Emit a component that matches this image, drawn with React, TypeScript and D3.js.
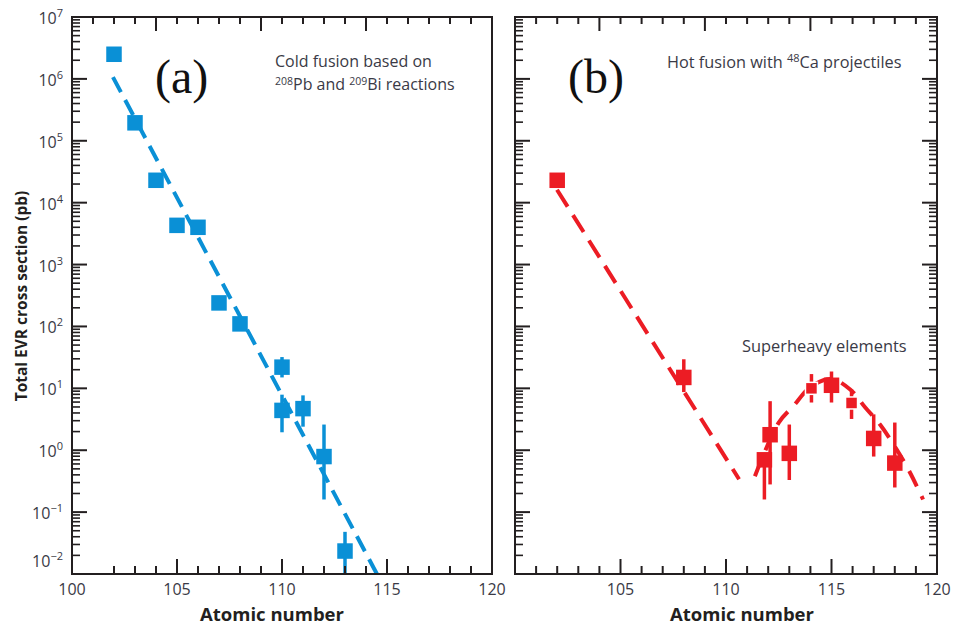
import React from 'react';
import * as d3 from 'd3';

// ---------- data ----------
// Panel (a): cold fusion (208Pb / 209Bi)
const coldZ = [102, 103, 104, 105, 106, 107, 108, 110, 110, 111, 112, 113];
const coldSigma = [2.5e6, 1.95e5, 2.3e4, 4.3e3, 4.0e3, 240, 110, 22, 4.4, 4.7, 0.79, 0.0235];
const coldErrLo = [null, null, null, null, null, null, null, 15, 1.95, 2.4, 0.16, 0.01];
const coldErrHi = [null, null, null, null, null, null, null, 32, 7.9, 7.7, 2.6, 0.048];
const coldFitZ = [101.95, 114.52];
const coldFitSigma = [1.07e6, 0.01];

// Panel (b): hot fusion with 48Ca
const hotZ = [102, 108, 111.82, 112.09, 113, 114.05, 115, 115.95, 117, 118];
const hotSigma = [2.3e4, 15, 0.70, 1.78, 0.89, 10, 11.2, 5.8, 1.55, 0.62];
const hotErrLo = [null, 8.7, 0.16, 0.28, 0.33, 5.9, 5.9, 3.2, 0.79, 0.25];
const hotErrHi = [null, 29.5, 0.9, 6.2, 2.6, 17, 18.7, 9.6, 3.8, 2.8];
const hotFit1Z = [101.99, 110.62];
const hotFit1Sigma = [1.62e4, 0.34];
const hotFit2Z = [111.37, 112.5, 113.2, 114.0, 115.0, 115.9, 116.6, 117.3, 118.0, 118.7, 119.34];
const hotFit2Sigma = [0.38, 2.8, 5.2, 10.5, 14.1, 9.5, 4.9, 2.6, 1.15, 0.45, 0.16];

// axis ticks
const yMajorExp = [-2, -1, 0, 1, 2, 3, 4, 5, 6, 7];
const yMinorMult = [2, 3, 4, 5, 6, 7, 8, 9];
const xLabelsA = [100, 105, 110, 115, 120];
const xLabelsB = [105, 110, 115, 120];
const xBottomTicksA = [102, 103, 104, 105, 106, 107, 108, 109, 110, 111, 112, 113, 114, 115, 116, 117, 118, 119];
const xBottomTicksB = [101, 102, 103, 104, 105, 106, 107, 108, 109, 110, 111, 112, 113, 114, 115, 116, 117, 118, 119];
const xBottomMajor = [105, 110, 115];
const xTopTicks = [101, 102, 103, 104, 105, 106, 107, 108, 109, 110, 111, 112, 113, 114, 115, 116, 117, 118, 119];
const xTopMajor = [104, 109, 114];
const smallMarkerZ = [114.05, 115.95];

// ---------- layout / style ----------
const W = 954;
const H = 626;
const Y_TOP = 17;
const Y_BOT = 574;
const BLUE = '#0a90d6';
const RED = '#ec1c24';
const AXIS = '#231f20';
const LABEL = '#3a3a46';
const FONT = '"Open Sans", "Noto Sans", sans-serif';

const yScale = d3.scaleLog().domain([1e-2, 1e7]).range([Y_BOT, Y_TOP]);
const xA = d3.scaleLinear().domain([100, 120]).range([72, 492]);
const xB = d3.scaleLinear().domain([100, 120]).range([515, 937]);

const yMinor: number[] = [];
yMajorExp.slice(0, -1).forEach((e) => yMinorMult.forEach((m) => yMinor.push(m * Math.pow(10, e))));

function Frame({ x, rightTicks, bottomTicks }: { x: d3.ScaleLinear<number, number>; rightTicks: boolean; bottomTicks: number[] }) {
  const [x0, x1] = x.range();
  const els: React.ReactNode[] = [];
  yMajorExp.forEach((e) => {
    const y = yScale(Math.pow(10, e));
    els.push(<line key={'lM' + e} x1={x0} x2={x0 + 15} y1={y} y2={y} />);
    if (rightTicks) els.push(<line key={'rM' + e} x1={x1} x2={x1 - 15} y1={y} y2={y} />);
  });
  yMinor.forEach((v, i) => {
    const y = yScale(v);
    els.push(<line key={'lm' + i} x1={x0} x2={x0 + 8} y1={y} y2={y} strokeWidth={1.6} />);
    if (rightTicks) els.push(<line key={'rm' + i} x1={x1} x2={x1 - 8} y1={y} y2={y} strokeWidth={1.6} />);
  });
  bottomTicks.forEach((t) => {
    const len = xBottomMajor.includes(t) ? 15 : 8;
    els.push(<line key={'b' + t} x1={x(t)} x2={x(t)} y1={Y_BOT} y2={Y_BOT - len} />);
  });
  xTopTicks.forEach((t) => {
    const len = xTopMajor.includes(t) ? 14 : 7;
    els.push(<line key={'t' + t} x1={x(t)} x2={x(t)} y1={Y_TOP} y2={Y_TOP + len} />);
  });
  return (
    <g stroke={AXIS} strokeWidth={2} fill="none">
      {els}
      <rect x={x0} y={Y_TOP} width={x1 - x0} height={Y_BOT - Y_TOP} />
    </g>
  );
}

function Series({ x, zs, sig, lo, hi, color, small }: any) {
  return (
    <g>
      {zs.map((z: number, i: number) =>
        lo[i] != null ? (
          <line key={'e' + i} x1={x(z)} x2={x(z)} y1={yScale(lo[i])} y2={yScale(hi[i])} stroke={color} strokeWidth={3.5} />
        ) : null
      )}
      {zs.map((z: number, i: number) => {
        const isSmall = small && small.includes(z);
        const s = isSmall ? 12 : 15.5;
        return (
          <rect
            key={'s' + i}
            x={x(z) - s / 2}
            y={yScale(sig[i]) - s / 2}
            width={s}
            height={s}
            fill={color}
            stroke={isSmall ? '#fff' : 'none'}
            strokeWidth={1.5}
          />
        );
      })}
    </g>
  );
}

function fitPath(x: any, zs: number[], sig: number[], curve?: any) {
  const line = d3
    .line<number>()
    .x((_, i) => x(zs[i]))
    .y((_, i) => yScale(sig[i]));
  if (curve) line.curve(curve);
  return line(zs) || '';
}

function YLabels() {
  return (
    <g fontFamily={FONT} fill={LABEL} textAnchor="end">
      {yMajorExp.map((e) => {
        const y = yScale(Math.pow(10, e)) + (e === -2 ? -7 : 7);
        const ex = e < 0 ? '\u2212' + Math.abs(e) : String(e);
        return (
          <text key={e} x={63} y={y} fontSize={16}>
            10
            <tspan fontSize={11} dy={-7}>
              {ex}
            </tspan>
          </text>
        );
      })}
    </g>
  );
}

function XLabels({ x, ticks }: any) {
  return (
    <g fontFamily={FONT} fill={LABEL} textAnchor="middle" fontSize={16}>
      {ticks.map((t: number) => (
        <text key={t} x={x(t)} y={595}>
          {t}
        </text>
      ))}
    </g>
  );
}

export default function App() {
  return (
    <svg width={W} height={H} style={{ position: 'absolute', left: 0, top: 0, background: '#fff' }}>
      <rect width={W} height={H} fill="#fff" />
      {/* Panel A */}
      <path d={fitPath(xA, coldFitZ, coldFitSigma)} fill="none" stroke={BLUE} strokeWidth={4} strokeDasharray="17 9" />
      <Series x={xA} zs={coldZ} sig={coldSigma} lo={coldErrLo} hi={coldErrHi} color={BLUE} />
      <Frame x={xA} rightTicks={false} bottomTicks={xBottomTicksA} />
      {/* Panel B */}
      <path d={fitPath(xB, hotFit1Z, hotFit1Sigma)} fill="none" stroke={RED} strokeWidth={4} strokeDasharray="20 10" />
      <path d={fitPath(xB, hotFit2Z, hotFit2Sigma, d3.curveCatmullRom)} fill="none" stroke={RED} strokeWidth={4} strokeDasharray="17 11" />
      <Series x={xB} zs={hotZ} sig={hotSigma} lo={hotErrLo} hi={hotErrHi} color={RED} small={smallMarkerZ} />
      <Frame x={xB} rightTicks={true} bottomTicks={xBottomTicksB} />

      <YLabels />
      <XLabels x={xA} ticks={xLabelsA} />
      <XLabels x={xB} ticks={xLabelsB} />

      <text x={21} y={296} transform="rotate(-90 21 296)" textAnchor="middle" dy={6} fontFamily={FONT} fontWeight={700} fontSize={15.5} fill={AXIS}>
        Total EVR cross section (pb)
      </text>
      <text x={272} y={621} textAnchor="middle" fontFamily={FONT} fontWeight={700} fontSize={18.5} fill={AXIS}>
        Atomic number
      </text>
      <text x={742} y={621} textAnchor="middle" fontFamily={FONT} fontWeight={700} fontSize={18.5} fill={AXIS}>
        Atomic number
      </text>

      <text x={155} y={93} fontFamily='"Liberation Serif", "Times New Roman", serif' fontSize={48} fill="#111">
        (a)
      </text>
      <text x={568} y={93} fontFamily='"Liberation Serif", "Times New Roman", serif' fontSize={48} fill="#111">
        (b)
      </text>

      <g fontFamily={FONT} fill={LABEL} fontSize={16}>
        <text x={275} y={67}>Cold fusion based on</text>
        <text x={275} y={90}>
          <tspan fontSize={10.5} dy={-5}>208</tspan>
          <tspan dy={5}>Pb and </tspan>
          <tspan fontSize={10.5} dy={-5}>209</tspan>
          <tspan dy={5}>Bi reactions</tspan>
        </text>
        <text x={667} y={68} fontSize={16.3}>
          Hot fusion with <tspan fontSize={11} dy={-6}>48</tspan>
          <tspan dy={6}>Ca projectiles</tspan>
        </text>
        <text x={742} y={352} fontSize={16.4}>
          Superheavy elements
        </text>
      </g>
    </svg>
  );
}
